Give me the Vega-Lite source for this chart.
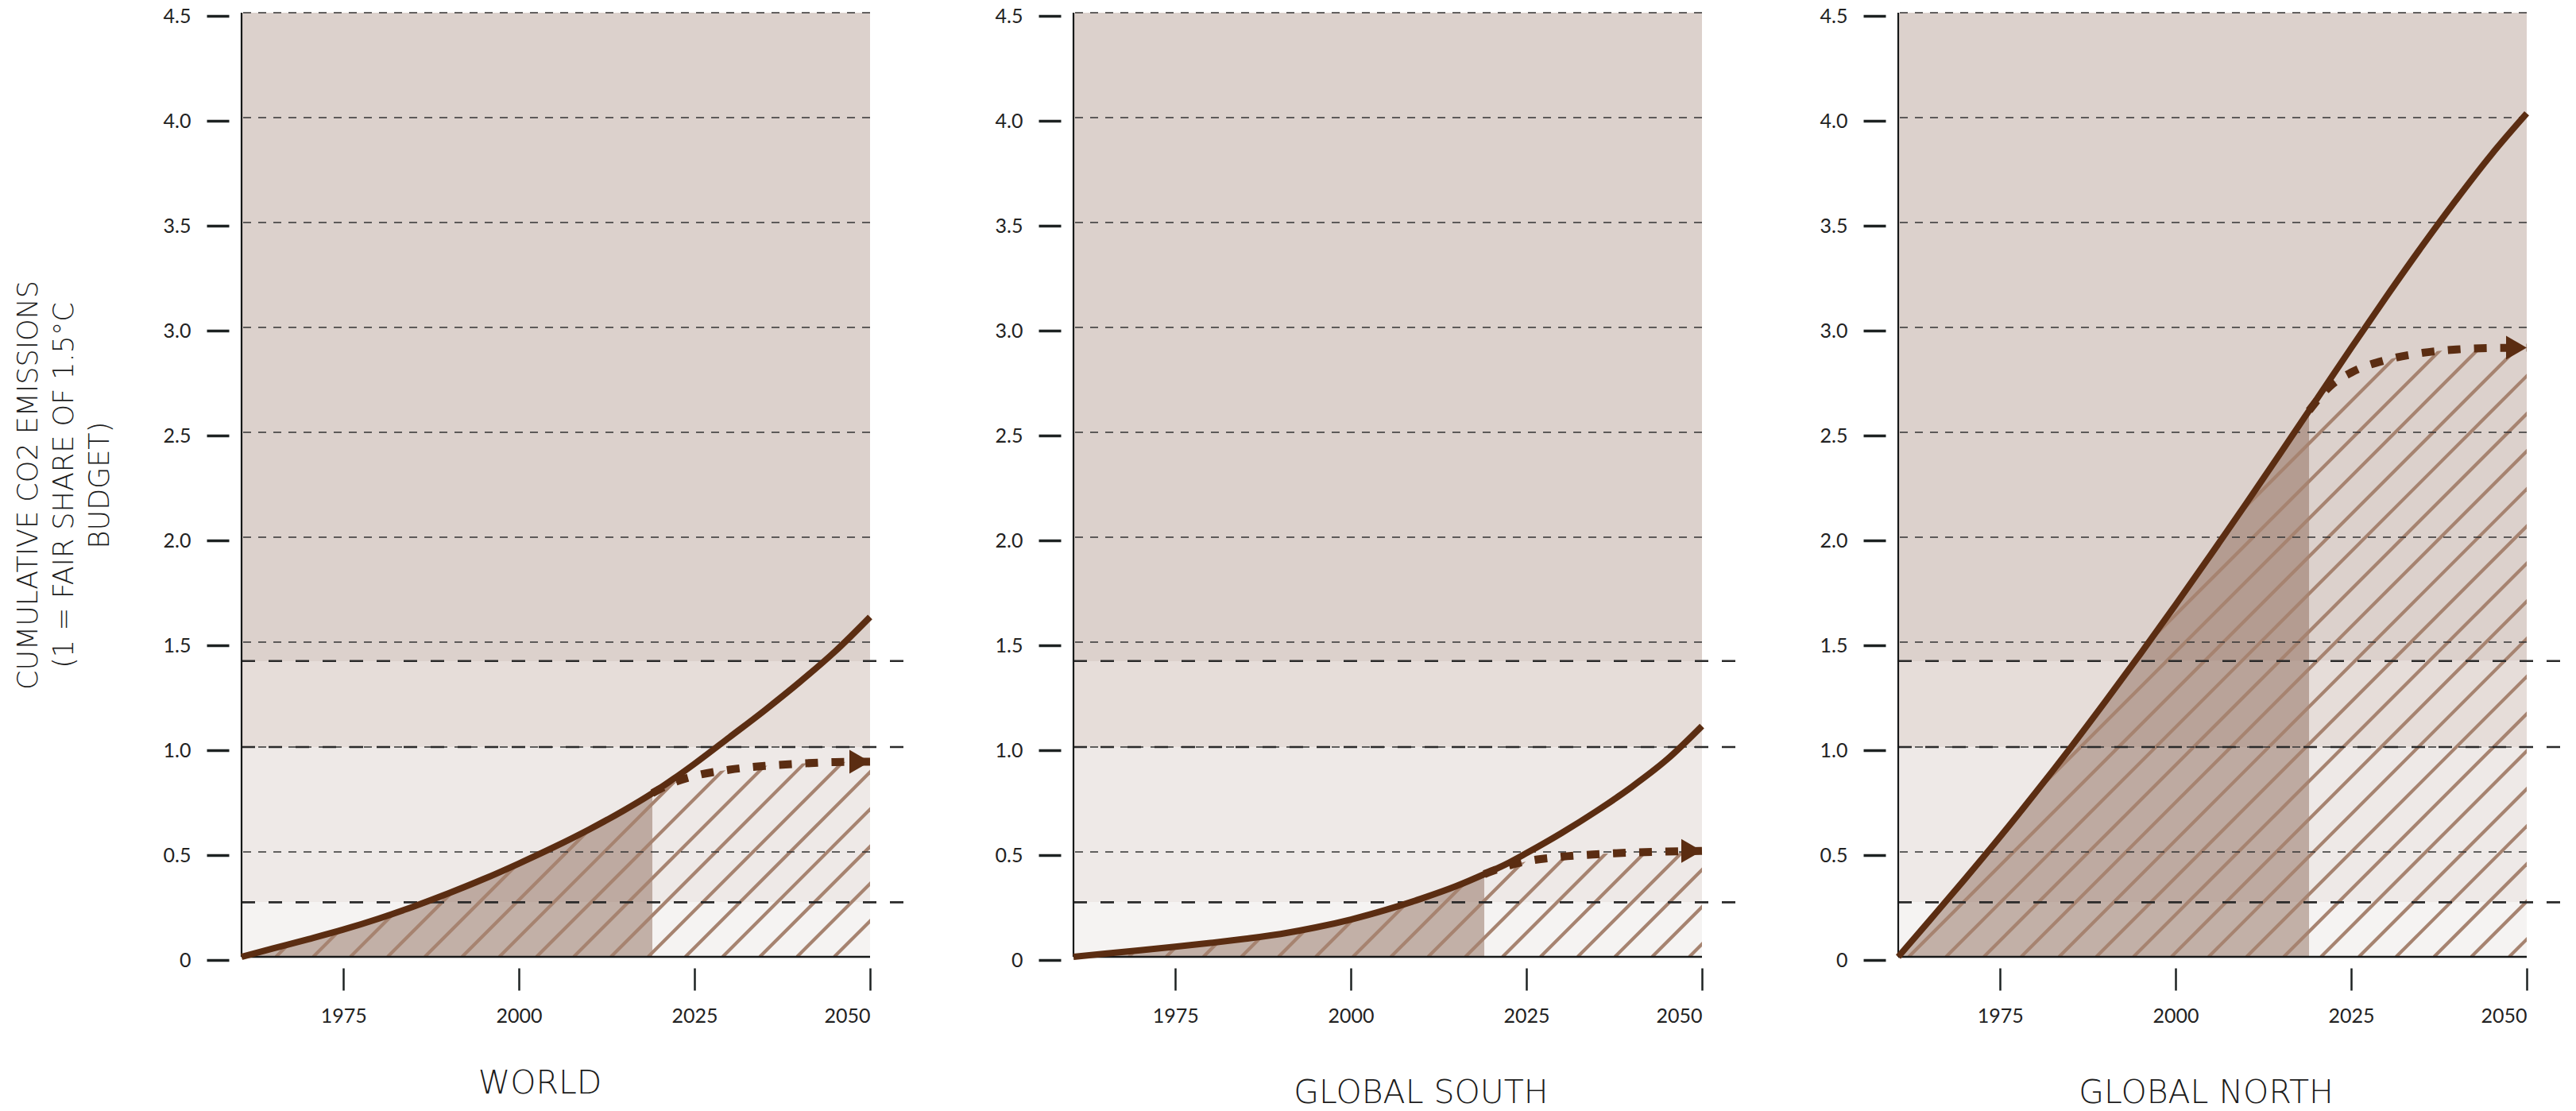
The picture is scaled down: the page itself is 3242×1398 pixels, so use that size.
{
  "$schema": "https://vega.github.io/schema/vega-lite/v6.json",
  "background": "#ffffff",
  "padding": {"left": 18, "top": 8, "right": 4, "bottom": 4},
  "spacing": 256,
  "bounds": "flush",
  "datasets": {
    "series": [
      {"panel": "World", "year": 1960.5, "emissions": 0, "path": 0},
      {"panel": "World", "year": 1965, "emissions": 0.04, "path": 0.04},
      {"panel": "World", "year": 1970, "emissions": 0.084, "path": 0.084},
      {"panel": "World", "year": 1975, "emissions": 0.13, "path": 0.13},
      {"panel": "World", "year": 1980, "emissions": 0.182, "path": 0.182},
      {"panel": "World", "year": 1985, "emissions": 0.24, "path": 0.24},
      {"panel": "World", "year": 1990, "emissions": 0.303, "path": 0.303},
      {"panel": "World", "year": 1995, "emissions": 0.371, "path": 0.371},
      {"panel": "World", "year": 2000, "emissions": 0.445, "path": 0.445},
      {"panel": "World", "year": 2005, "emissions": 0.523, "path": 0.523},
      {"panel": "World", "year": 2010, "emissions": 0.607, "path": 0.607},
      {"panel": "World", "year": 2015, "emissions": 0.699, "path": 0.699},
      {"panel": "World", "year": 2019, "emissions": 0.78, "path": 0.78},
      {"panel": "World", "year": 2022, "emissions": 0.848, "path": 0.83},
      {"panel": "World", "year": 2025, "emissions": 0.92, "path": 0.862},
      {"panel": "World", "year": 2030, "emissions": 1.047, "path": 0.892},
      {"panel": "World", "year": 2035, "emissions": 1.175, "path": 0.91},
      {"panel": "World", "year": 2040, "emissions": 1.31, "path": 0.921},
      {"panel": "World", "year": 2045, "emissions": 1.455, "path": 0.928},
      {"panel": "World", "year": 2050, "emissions": 1.62, "path": 0.93},
      {"panel": "Global South", "year": 1960.5, "emissions": 0, "path": 0},
      {"panel": "Global South", "year": 1965, "emissions": 0.015, "path": 0.015},
      {"panel": "Global South", "year": 1970, "emissions": 0.031, "path": 0.031},
      {"panel": "Global South", "year": 1975, "emissions": 0.048, "path": 0.048},
      {"panel": "Global South", "year": 1980, "emissions": 0.066, "path": 0.066},
      {"panel": "Global South", "year": 1985, "emissions": 0.086, "path": 0.086},
      {"panel": "Global South", "year": 1990, "emissions": 0.109, "path": 0.109},
      {"panel": "Global South", "year": 1995, "emissions": 0.14, "path": 0.14},
      {"panel": "Global South", "year": 2000, "emissions": 0.178, "path": 0.178},
      {"panel": "Global South", "year": 2005, "emissions": 0.224, "path": 0.224},
      {"panel": "Global South", "year": 2010, "emissions": 0.277, "path": 0.277},
      {"panel": "Global South", "year": 2015, "emissions": 0.337, "path": 0.337},
      {"panel": "Global South", "year": 2019, "emissions": 0.394, "path": 0.394},
      {"panel": "Global South", "year": 2022, "emissions": 0.44, "path": 0.43},
      {"panel": "Global South", "year": 2025, "emissions": 0.494, "path": 0.455},
      {"panel": "Global South", "year": 2030, "emissions": 0.59, "path": 0.477},
      {"panel": "Global South", "year": 2035, "emissions": 0.695, "path": 0.489},
      {"panel": "Global South", "year": 2040, "emissions": 0.81, "path": 0.497},
      {"panel": "Global South", "year": 2045, "emissions": 0.94, "path": 0.502},
      {"panel": "Global South", "year": 2050, "emissions": 1.1, "path": 0.505},
      {"panel": "Global North", "year": 1960.5, "emissions": 0, "path": 0},
      {"panel": "Global North", "year": 1965, "emissions": 0.175, "path": 0.175},
      {"panel": "Global North", "year": 1970, "emissions": 0.371, "path": 0.371},
      {"panel": "Global North", "year": 1975, "emissions": 0.572, "path": 0.572},
      {"panel": "Global North", "year": 1980, "emissions": 0.78, "path": 0.78},
      {"panel": "Global North", "year": 1985, "emissions": 0.995, "path": 0.995},
      {"panel": "Global North", "year": 1990, "emissions": 1.217, "path": 1.217},
      {"panel": "Global North", "year": 1995, "emissions": 1.445, "path": 1.445},
      {"panel": "Global North", "year": 2000, "emissions": 1.678, "path": 1.678},
      {"panel": "Global North", "year": 2005, "emissions": 1.916, "path": 1.916},
      {"panel": "Global North", "year": 2010, "emissions": 2.158, "path": 2.158},
      {"panel": "Global North", "year": 2015, "emissions": 2.404, "path": 2.404},
      {"panel": "Global North", "year": 2019, "emissions": 2.603, "path": 2.603},
      {"panel": "Global North", "year": 2022, "emissions": 2.753, "path": 2.72},
      {"panel": "Global North", "year": 2025, "emissions": 2.902, "path": 2.785},
      {"panel": "Global North", "year": 2030, "emissions": 3.146, "path": 2.845},
      {"panel": "Global North", "year": 2035, "emissions": 3.383, "path": 2.878},
      {"panel": "Global North", "year": 2040, "emissions": 3.61, "path": 2.895},
      {"panel": "Global North", "year": 2045, "emissions": 3.825, "path": 2.902},
      {"panel": "Global North", "year": 2050, "emissions": 4.02, "path": 2.903}
    ],
    "hatch": [
      {"panel": "World", "base": 1960.1}, {"panel": "World", "base": 1965.4}, {"panel": "World", "base": 1970.7},
      {"panel": "World", "base": 1976.0}, {"panel": "World", "base": 1981.3}, {"panel": "World", "base": 1986.6},
      {"panel": "World", "base": 1991.9}, {"panel": "World", "base": 1997.2}, {"panel": "World", "base": 2002.5},
      {"panel": "World", "base": 2007.8}, {"panel": "World", "base": 2013.1}, {"panel": "World", "base": 2018.4},
      {"panel": "World", "base": 2023.7}, {"panel": "World", "base": 2029.0}, {"panel": "World", "base": 2034.3},
      {"panel": "World", "base": 2039.6}, {"panel": "World", "base": 2044.9},
      {"panel": "Global South", "base": 1963.1}, {"panel": "Global South", "base": 1968.4}, {"panel": "Global South", "base": 1973.7},
      {"panel": "Global South", "base": 1979.0}, {"panel": "Global South", "base": 1984.4}, {"panel": "Global South", "base": 1989.7},
      {"panel": "Global South", "base": 1995.0}, {"panel": "Global South", "base": 2000.3}, {"panel": "Global South", "base": 2005.7},
      {"panel": "Global South", "base": 2011.0}, {"panel": "Global South", "base": 2016.3}, {"panel": "Global South", "base": 2021.6},
      {"panel": "Global South", "base": 2027.0}, {"panel": "Global South", "base": 2032.3}, {"panel": "Global South", "base": 2037.6},
      {"panel": "Global South", "base": 2042.9}, {"panel": "Global South", "base": 2048.2},
      {"panel": "Global North", "base": 1940.6}, {"panel": "Global North", "base": 1945.9}, {"panel": "Global North", "base": 1951.3},
      {"panel": "Global North", "base": 1956.6}, {"panel": "Global North", "base": 1962.0}, {"panel": "Global North", "base": 1967.3},
      {"panel": "Global North", "base": 1972.7}, {"panel": "Global North", "base": 1978.0}, {"panel": "Global North", "base": 1983.4},
      {"panel": "Global North", "base": 1988.7}, {"panel": "Global North", "base": 1994.0}, {"panel": "Global North", "base": 1999.4},
      {"panel": "Global North", "base": 2004.7}, {"panel": "Global North", "base": 2010.1}, {"panel": "Global North", "base": 2015.4},
      {"panel": "Global North", "base": 2020.7}, {"panel": "Global North", "base": 2026.1}, {"panel": "Global North", "base": 2031.4},
      {"panel": "Global North", "base": 2036.8}, {"panel": "Global North", "base": 2042.1}, {"panel": "Global North", "base": 2047.5}
    ],
    "zones": [
      {"zone": "a", "lo": 0, "hi": 0.26},
      {"zone": "b", "lo": 0.26, "hi": 1},
      {"zone": "c", "lo": 1, "hi": 1.41},
      {"zone": "d", "lo": 1.41, "hi": 4.5}
    ],
    "grid": [{"v": 0.5}, {"v": 1}, {"v": 1.5}, {"v": 2}, {"v": 2.5}, {"v": 3}, {"v": 3.5}, {"v": 4}, {"v": 4.5}],
    "limits": [{"v": 0.26}, {"v": 1}, {"v": 1.41}],
    "one": [{}]
  },
  "hconcat": [
    {
      "width": 791, "height": 1188,
      "layer": [
        {"data": {"name": "zones"}, "mark": {"type": "rect"},
         "encoding": {
           "x": {"datum": 1960.5, "type": "quantitative", "scale": {"domain": [1960.5, 2050], "nice": false, "zero": false}},
           "x2": {"datum": 2050},
           "y": {"field": "lo", "type": "quantitative", "scale": {"domain": [0, 4.5], "nice": false, "zero": false}},
           "y2": {"field": "hi"},
           "color": {"field": "zone", "type": "nominal", "scale": {"domain": ["a", "b", "c", "d"], "range": ["#f5f3f2", "#eee9e7", "#e6ddd9", "#dcd1cc"]}, "legend": null}
         }},
        {"data": {"name": "series"}, "transform": [{"filter": "datum.panel === 'World' && datum.year <= 2019"}],
         "mark": {"type": "area", "color": "#7d5440", "opacity": 0.42, "interpolate": "monotone"},
         "encoding": {
           "x": {"field": "year", "type": "quantitative", "scale": {"domain": [1960.5, 2050], "nice": false, "zero": false}},
           "y": {"field": "emissions", "type": "quantitative", "scale": {"domain": [0, 4.5], "nice": false, "zero": false}},
           "y2": {"datum": 0}
         }},
        {"data": {"name": "hatch"}, "transform": [{"filter": "datum.panel === 'World'"}],
         "mark": {"type": "rule", "clip": true, "color": "#a68370", "strokeWidth": 4.2, "x2Offset": 1188},
         "encoding": {
           "x": {"field": "base", "type": "quantitative", "scale": {"domain": [1960.5, 2050], "nice": false, "zero": false}},
           "x2": {"field": "base"},
           "y": {"datum": 0, "type": "quantitative", "scale": {"domain": [0, 4.5], "nice": false, "zero": false}},
           "y2": {"datum": 4.5}
         }},
        {"data": {"name": "series"}, "transform": [{"filter": "datum.panel === 'World'"}],
         "mark": {"type": "area", "interpolate": "monotone", "opacity": 1,
                  "fill": {"gradient": "linear", "x1": 0, "y1": 1, "x2": 0, "y2": 0,
                           "stops": [{"offset": 0, "color": "#f5f3f2"}, {"offset": 0.057778, "color": "#f5f3f2"}, {"offset": 0.057778, "color": "#eee9e7"}, {"offset": 0.222222, "color": "#eee9e7"}, {"offset": 0.222222, "color": "#e6ddd9"}, {"offset": 0.313333, "color": "#e6ddd9"}, {"offset": 0.313333, "color": "#dcd1cc"}, {"offset": 1, "color": "#dcd1cc"}]}},
         "encoding": {
           "x": {"field": "year", "type": "quantitative", "scale": {"domain": [1960.5, 2050], "nice": false, "zero": false}},
           "y": {"field": "path", "type": "quantitative", "scale": {"domain": [0, 4.5], "nice": false, "zero": false}},
           "y2": {"datum": 4.5}
         }},
        {"data": {"name": "grid"}, "mark": {"type": "rule", "color": "#333333", "strokeWidth": 1.4, "strokeDash": [10, 9]},
         "encoding": {"y": {"field": "v", "type": "quantitative", "scale": {"domain": [0, 4.5], "nice": false, "zero": false}}}},
        {"data": {"name": "limits"}, "mark": {"type": "rule", "color": "#2a2a2a", "strokeWidth": 2.7, "strokeDash": [17, 17], "x2Offset": 53},
         "encoding": {
           "y": {"field": "v", "type": "quantitative", "scale": {"domain": [0, 4.5], "nice": false, "zero": false}},
           "x": {"datum": 1960.5, "type": "quantitative", "scale": {"domain": [1960.5, 2050], "nice": false, "zero": false}},
           "x2": {"datum": 2050}
         }},
        {"data": {"name": "one"}, "mark": {"type": "rule", "color": "#161818", "strokeWidth": 2.2},
         "encoding": {
           "x": {"datum": 1960.5, "type": "quantitative", "scale": {"domain": [1960.5, 2050], "nice": false, "zero": false}},
           "y": {"datum": 0, "type": "quantitative", "scale": {"domain": [0, 4.5], "nice": false, "zero": false}},
           "y2": {"datum": 4.5}
         }},
        {"data": {"name": "one"}, "mark": {"type": "rule", "color": "#161818", "strokeWidth": 2.6},
         "encoding": {
           "x": {"datum": 1960.5, "type": "quantitative", "scale": {"domain": [1960.5, 2050], "nice": false, "zero": false}},
           "x2": {"datum": 2050},
           "y": {"datum": 0, "type": "quantitative", "scale": {"domain": [0, 4.5], "nice": false, "zero": false}}
         }},
        {"data": {"name": "series"}, "transform": [{"filter": "datum.panel === 'World'"}],
         "mark": {"type": "line", "color": "#5b2d12", "strokeWidth": 8, "interpolate": "monotone"},
         "encoding": {
           "x": {"field": "year", "type": "quantitative", "scale": {"domain": [1960.5, 2050], "nice": false, "zero": false},
                 "axis": {"values": [1975, 2000, 2025, 2050], "format": "d", "title": "WORLD", "titleX": 375, "titlePadding": 52}},
           "y": {"field": "emissions", "type": "quantitative", "scale": {"domain": [0, 4.5], "nice": false, "zero": false},
                 "axis": {"values": [0, 0.5, 1, 1.5, 2, 2.5, 3, 3.5, 4, 4.5], "labelExpr": "datum.value === 0 ? '0' : format(datum.value, '.1f')",
                          "title": ["CUMULATIVE CO2 EMISSIONS", "(1 = FAIR SHARE OF 1.5°C", "BUDGET)"]}}
         }},
        {"data": {"name": "series"}, "transform": [{"filter": "datum.panel === 'World' && datum.year >= 2019"}],
         "mark": {"type": "line", "color": "#5b2d12", "strokeWidth": 10, "strokeDash": [16, 17], "interpolate": "monotone"},
         "encoding": {
           "x": {"field": "year", "type": "quantitative", "scale": {"domain": [1960.5, 2050], "nice": false, "zero": false}},
           "y": {"field": "path", "type": "quantitative", "scale": {"domain": [0, 4.5], "nice": false, "zero": false}}
         }},
        {"data": {"name": "series"}, "transform": [{"filter": "datum.panel === 'World' && datum.year === 2050"}],
         "mark": {"type": "point", "shape": "triangle-right", "filled": true, "opacity": 1, "size": 900, "color": "#5b2d12", "xOffset": -13},
         "encoding": {
           "x": {"field": "year", "type": "quantitative", "scale": {"domain": [1960.5, 2050], "nice": false, "zero": false}},
           "y": {"field": "path", "type": "quantitative", "scale": {"domain": [0, 4.5], "nice": false, "zero": false}}
         }}
      ]
    },
    {
      "spacing": 247,
      "bounds": "flush",
      "hconcat": [
        {
          "width": 791, "height": 1188,
          "layer": [
            {"data": {"name": "zones"}, "mark": {"type": "rect"},
             "encoding": {
               "x": {"datum": 1960.5, "type": "quantitative", "scale": {"domain": [1960.5, 2050], "nice": false, "zero": false}},
               "x2": {"datum": 2050},
               "y": {"field": "lo", "type": "quantitative", "scale": {"domain": [0, 4.5], "nice": false, "zero": false}},
               "y2": {"field": "hi"},
               "color": {"field": "zone", "type": "nominal", "scale": {"domain": ["a", "b", "c", "d"], "range": ["#f5f3f2", "#eee9e7", "#e6ddd9", "#dcd1cc"]}, "legend": null}
             }},
            {"data": {"name": "series"}, "transform": [{"filter": "datum.panel === 'Global South' && datum.year <= 2019"}],
             "mark": {"type": "area", "color": "#7d5440", "opacity": 0.42, "interpolate": "monotone"},
             "encoding": {
               "x": {"field": "year", "type": "quantitative", "scale": {"domain": [1960.5, 2050], "nice": false, "zero": false}},
               "y": {"field": "emissions", "type": "quantitative", "scale": {"domain": [0, 4.5], "nice": false, "zero": false}},
               "y2": {"datum": 0}
             }},
            {"data": {"name": "hatch"}, "transform": [{"filter": "datum.panel === 'Global South'"}],
             "mark": {"type": "rule", "clip": true, "color": "#a68370", "strokeWidth": 4.2, "x2Offset": 1188},
             "encoding": {
               "x": {"field": "base", "type": "quantitative", "scale": {"domain": [1960.5, 2050], "nice": false, "zero": false}},
               "x2": {"field": "base"},
               "y": {"datum": 0, "type": "quantitative", "scale": {"domain": [0, 4.5], "nice": false, "zero": false}},
               "y2": {"datum": 4.5}
             }},
            {"data": {"name": "series"}, "transform": [{"filter": "datum.panel === 'Global South'"}],
             "mark": {"type": "area", "interpolate": "monotone", "opacity": 1,
                      "fill": {"gradient": "linear", "x1": 0, "y1": 1, "x2": 0, "y2": 0,
                               "stops": [{"offset": 0, "color": "#f5f3f2"}, {"offset": 0.057778, "color": "#f5f3f2"}, {"offset": 0.057778, "color": "#eee9e7"}, {"offset": 0.222222, "color": "#eee9e7"}, {"offset": 0.222222, "color": "#e6ddd9"}, {"offset": 0.313333, "color": "#e6ddd9"}, {"offset": 0.313333, "color": "#dcd1cc"}, {"offset": 1, "color": "#dcd1cc"}]}},
             "encoding": {
               "x": {"field": "year", "type": "quantitative", "scale": {"domain": [1960.5, 2050], "nice": false, "zero": false}},
               "y": {"field": "path", "type": "quantitative", "scale": {"domain": [0, 4.5], "nice": false, "zero": false}},
               "y2": {"datum": 4.5}
             }},
            {"data": {"name": "grid"}, "mark": {"type": "rule", "color": "#333333", "strokeWidth": 1.4, "strokeDash": [10, 9]},
             "encoding": {"y": {"field": "v", "type": "quantitative", "scale": {"domain": [0, 4.5], "nice": false, "zero": false}}}},
            {"data": {"name": "limits"}, "mark": {"type": "rule", "color": "#2a2a2a", "strokeWidth": 2.7, "strokeDash": [17, 17], "x2Offset": 53},
             "encoding": {
               "y": {"field": "v", "type": "quantitative", "scale": {"domain": [0, 4.5], "nice": false, "zero": false}},
               "x": {"datum": 1960.5, "type": "quantitative", "scale": {"domain": [1960.5, 2050], "nice": false, "zero": false}},
               "x2": {"datum": 2050}
             }},
            {"data": {"name": "one"}, "mark": {"type": "rule", "color": "#161818", "strokeWidth": 2.2},
             "encoding": {
               "x": {"datum": 1960.5, "type": "quantitative", "scale": {"domain": [1960.5, 2050], "nice": false, "zero": false}},
               "y": {"datum": 0, "type": "quantitative", "scale": {"domain": [0, 4.5], "nice": false, "zero": false}},
               "y2": {"datum": 4.5}
             }},
            {"data": {"name": "one"}, "mark": {"type": "rule", "color": "#161818", "strokeWidth": 2.6},
             "encoding": {
               "x": {"datum": 1960.5, "type": "quantitative", "scale": {"domain": [1960.5, 2050], "nice": false, "zero": false}},
               "x2": {"datum": 2050},
               "y": {"datum": 0, "type": "quantitative", "scale": {"domain": [0, 4.5], "nice": false, "zero": false}}
             }},
            {"data": {"name": "series"}, "transform": [{"filter": "datum.panel === 'Global South'"}],
             "mark": {"type": "line", "color": "#5b2d12", "strokeWidth": 8, "interpolate": "monotone"},
             "encoding": {
               "x": {"field": "year", "type": "quantitative", "scale": {"domain": [1960.5, 2050], "nice": false, "zero": false},
                     "axis": {"values": [1975, 2000, 2025, 2050], "format": "d", "title": "GLOBAL SOUTH", "titleX": 437, "titlePadding": 64}},
               "y": {"field": "emissions", "type": "quantitative", "scale": {"domain": [0, 4.5], "nice": false, "zero": false},
                     "axis": {"values": [0, 0.5, 1, 1.5, 2, 2.5, 3, 3.5, 4, 4.5], "labelExpr": "datum.value === 0 ? '0' : format(datum.value, '.1f')", "title": null}}
             }},
            {"data": {"name": "series"}, "transform": [{"filter": "datum.panel === 'Global South' && datum.year >= 2019"}],
             "mark": {"type": "line", "color": "#5b2d12", "strokeWidth": 10, "strokeDash": [16, 17], "interpolate": "monotone"},
             "encoding": {
               "x": {"field": "year", "type": "quantitative", "scale": {"domain": [1960.5, 2050], "nice": false, "zero": false}},
               "y": {"field": "path", "type": "quantitative", "scale": {"domain": [0, 4.5], "nice": false, "zero": false}}
             }},
            {"data": {"name": "series"}, "transform": [{"filter": "datum.panel === 'Global South' && datum.year === 2050"}],
             "mark": {"type": "point", "shape": "triangle-right", "filled": true, "opacity": 1, "size": 900, "color": "#5b2d12", "xOffset": -13},
             "encoding": {
               "x": {"field": "year", "type": "quantitative", "scale": {"domain": [1960.5, 2050], "nice": false, "zero": false}},
               "y": {"field": "path", "type": "quantitative", "scale": {"domain": [0, 4.5], "nice": false, "zero": false}}
             }}
          ]
        },
        {
          "width": 791, "height": 1188,
          "layer": [
            {"data": {"name": "zones"}, "mark": {"type": "rect"},
             "encoding": {
               "x": {"datum": 1960.5, "type": "quantitative", "scale": {"domain": [1960.5, 2050], "nice": false, "zero": false}},
               "x2": {"datum": 2050},
               "y": {"field": "lo", "type": "quantitative", "scale": {"domain": [0, 4.5], "nice": false, "zero": false}},
               "y2": {"field": "hi"},
               "color": {"field": "zone", "type": "nominal", "scale": {"domain": ["a", "b", "c", "d"], "range": ["#f5f3f2", "#eee9e7", "#e6ddd9", "#dcd1cc"]}, "legend": null}
             }},
            {"data": {"name": "series"}, "transform": [{"filter": "datum.panel === 'Global North' && datum.year <= 2019"}],
             "mark": {"type": "area", "color": "#7d5440", "opacity": 0.42, "interpolate": "monotone"},
             "encoding": {
               "x": {"field": "year", "type": "quantitative", "scale": {"domain": [1960.5, 2050], "nice": false, "zero": false}},
               "y": {"field": "emissions", "type": "quantitative", "scale": {"domain": [0, 4.5], "nice": false, "zero": false}},
               "y2": {"datum": 0}
             }},
            {"data": {"name": "hatch"}, "transform": [{"filter": "datum.panel === 'Global North'"}],
             "mark": {"type": "rule", "clip": true, "color": "#a68370", "strokeWidth": 4.2, "x2Offset": 1188},
             "encoding": {
               "x": {"field": "base", "type": "quantitative", "scale": {"domain": [1960.5, 2050], "nice": false, "zero": false}},
               "x2": {"field": "base"},
               "y": {"datum": 0, "type": "quantitative", "scale": {"domain": [0, 4.5], "nice": false, "zero": false}},
               "y2": {"datum": 4.5}
             }},
            {"data": {"name": "series"}, "transform": [{"filter": "datum.panel === 'Global North'"}],
             "mark": {"type": "area", "interpolate": "monotone", "opacity": 1,
                      "fill": {"gradient": "linear", "x1": 0, "y1": 1, "x2": 0, "y2": 0,
                               "stops": [{"offset": 0, "color": "#f5f3f2"}, {"offset": 0.057778, "color": "#f5f3f2"}, {"offset": 0.057778, "color": "#eee9e7"}, {"offset": 0.222222, "color": "#eee9e7"}, {"offset": 0.222222, "color": "#e6ddd9"}, {"offset": 0.313333, "color": "#e6ddd9"}, {"offset": 0.313333, "color": "#dcd1cc"}, {"offset": 1, "color": "#dcd1cc"}]}},
             "encoding": {
               "x": {"field": "year", "type": "quantitative", "scale": {"domain": [1960.5, 2050], "nice": false, "zero": false}},
               "y": {"field": "path", "type": "quantitative", "scale": {"domain": [0, 4.5], "nice": false, "zero": false}},
               "y2": {"datum": 4.5}
             }},
            {"data": {"name": "grid"}, "mark": {"type": "rule", "color": "#333333", "strokeWidth": 1.4, "strokeDash": [10, 9]},
             "encoding": {"y": {"field": "v", "type": "quantitative", "scale": {"domain": [0, 4.5], "nice": false, "zero": false}}}},
            {"data": {"name": "limits"}, "mark": {"type": "rule", "color": "#2a2a2a", "strokeWidth": 2.7, "strokeDash": [17, 17], "x2Offset": 53},
             "encoding": {
               "y": {"field": "v", "type": "quantitative", "scale": {"domain": [0, 4.5], "nice": false, "zero": false}},
               "x": {"datum": 1960.5, "type": "quantitative", "scale": {"domain": [1960.5, 2050], "nice": false, "zero": false}},
               "x2": {"datum": 2050}
             }},
            {"data": {"name": "one"}, "mark": {"type": "rule", "color": "#161818", "strokeWidth": 2.2},
             "encoding": {
               "x": {"datum": 1960.5, "type": "quantitative", "scale": {"domain": [1960.5, 2050], "nice": false, "zero": false}},
               "y": {"datum": 0, "type": "quantitative", "scale": {"domain": [0, 4.5], "nice": false, "zero": false}},
               "y2": {"datum": 4.5}
             }},
            {"data": {"name": "one"}, "mark": {"type": "rule", "color": "#161818", "strokeWidth": 2.6},
             "encoding": {
               "x": {"datum": 1960.5, "type": "quantitative", "scale": {"domain": [1960.5, 2050], "nice": false, "zero": false}},
               "x2": {"datum": 2050},
               "y": {"datum": 0, "type": "quantitative", "scale": {"domain": [0, 4.5], "nice": false, "zero": false}}
             }},
            {"data": {"name": "series"}, "transform": [{"filter": "datum.panel === 'Global North'"}],
             "mark": {"type": "line", "color": "#5b2d12", "strokeWidth": 8, "interpolate": "monotone"},
             "encoding": {
               "x": {"field": "year", "type": "quantitative", "scale": {"domain": [1960.5, 2050], "nice": false, "zero": false},
                     "axis": {"values": [1975, 2000, 2025, 2050], "format": "d", "title": "GLOBAL NORTH", "titleX": 387, "titlePadding": 64}},
               "y": {"field": "emissions", "type": "quantitative", "scale": {"domain": [0, 4.5], "nice": false, "zero": false},
                     "axis": {"values": [0, 0.5, 1, 1.5, 2, 2.5, 3, 3.5, 4, 4.5], "labelExpr": "datum.value === 0 ? '0' : format(datum.value, '.1f')", "title": null}}
             }},
            {"data": {"name": "series"}, "transform": [{"filter": "datum.panel === 'Global North' && datum.year >= 2019"}],
             "mark": {"type": "line", "color": "#5b2d12", "strokeWidth": 10, "strokeDash": [16, 17], "interpolate": "monotone"},
             "encoding": {
               "x": {"field": "year", "type": "quantitative", "scale": {"domain": [1960.5, 2050], "nice": false, "zero": false}},
               "y": {"field": "path", "type": "quantitative", "scale": {"domain": [0, 4.5], "nice": false, "zero": false}}
             }},
            {"data": {"name": "series"}, "transform": [{"filter": "datum.panel === 'Global North' && datum.year === 2050"}],
             "mark": {"type": "point", "shape": "triangle-right", "filled": true, "opacity": 1, "size": 900, "color": "#5b2d12", "xOffset": -13},
             "encoding": {
               "x": {"field": "year", "type": "quantitative", "scale": {"domain": [1960.5, 2050], "nice": false, "zero": false}},
               "y": {"field": "path", "type": "quantitative", "scale": {"domain": [0, 4.5], "nice": false, "zero": false}}
             }}
          ]
        }
      ]
    }
  ],
  "config": {
    "view": {"stroke": null},
    "axis": {
      "domain": false, "grid": false,
      "labelFont": "Lato", "labelFontWeight": 400, "labelFontSize": 25, "labelColor": "#222222",
      "tickColor": "#1d2222", "tickSize": 28,
      "titleFont": "DejaVu Sans", "titleFontWeight": 200, "titleColor": "#1c1c1c"
    },
    "axisX": {"offset": 14, "tickWidth": 2.5, "labelPadding": 20, "titleFontSize": 41},
    "axisY": {"offset": 16, "tickWidth": 3.5, "tickOffset": 4, "labelPadding": 20, "titleFontSize": 35, "titleLineHeight": 45, "titlePadding": 62}
  }
}
